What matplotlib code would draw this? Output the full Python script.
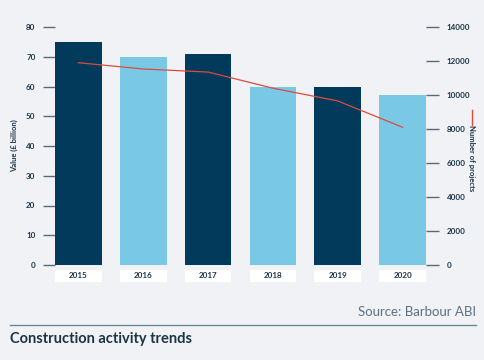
import numpy as np
import matplotlib
matplotlib.use("Agg")
import matplotlib.pyplot as plt
from matplotlib.lines import Line2D

years = ["2015", "2016", "2017", "2018", "2019", "2020"]
value_bn = [75, 70, 71, 60, 60, 57]
projects = [11900, 11530, 11350, 10400, 9650, 8100]
left_ticks = [0, 10, 20, 30, 40, 50, 60, 70, 80]
right_ticks = [0, 2000, 4000, 6000, 8000, 10000, 12000, 14000]

navy = "#023a5b"
light = "#79c9e6"
red = "#e2493d"
bg = "#f0f2f5"
text_col = "#1c3446"

plt.rcParams["font.family"] = ["Lato", "DejaVu Sans"]

fig = plt.figure(figsize=(4.85, 3.6), dpi=100, facecolor=bg)
ax = fig.add_axes([55/485, 1 - 265/360, 371/485, 238/360])
ax.set_facecolor(bg)

x = np.arange(len(years))
colors = [navy if i % 2 == 0 else light for i in range(len(years))]
ax.bar(x, value_bn, width=0.72, color=colors, zorder=2)
ax.set_xlim(-0.36, len(years) - 0.64)
ax.set_ylim(0, 80)
ax.set_yticks(left_ticks)
ax.tick_params(axis="y", length=9, width=1, color="#5a6b78", pad=5,
               labelsize=5.8, labelcolor=text_col)
for lbl in ax.get_yticklabels():
    lbl.set_fontweight("bold")
ax.set_xticks([])
for s in ax.spines.values():
    s.set_visible(False)
ax.set_ylabel("Value (£ billion)", fontsize=5.5, fontweight="bold",
              color=text_col, labelpad=6)

# year labels in white boxes
for xi, yr in zip(x, years):
    ax.bar(xi, 4.0, bottom=-5.6, width=0.72, color="white", clip_on=False, zorder=2)
    ax.text(xi, -3.6, yr, ha="center", va="center", fontsize=5.8,
            fontweight="bold", color=text_col, clip_on=False)

ax2 = ax.twinx()
ax2.plot(x, projects, color=red, linewidth=0.9, zorder=3)
ax2.set_ylim(0, 14000)
ax2.set_yticks(right_ticks)
ax2.tick_params(axis="y", length=9, width=1, color="#5a6b78", pad=6,
                labelsize=5.8, labelcolor=text_col)
for lbl in ax2.get_yticklabels():
    lbl.set_fontweight("bold")
for s in ax2.spines.values():
    s.set_visible(False)

# right axis label with line key
fig.text(472/485, 1 - 158/360, "Number of projects", rotation=-90, ha="center",
         va="center", fontsize=5.5, fontweight="bold", color=text_col)
fig.add_artist(Line2D([472/485, 472/485], [1 - 110/360, 1 - 125/360],
                      color=red, linewidth=1))

fig.text(476/485, 1 - 312/360, "Source: Barbour ABI", ha="right", va="center",
         fontsize=9.5, color="#5c7282")
fig.add_artist(Line2D([10/485, 476/485], [1 - 325/360, 1 - 325/360],
                      color="#6f8796", linewidth=1))
fig.text(10/485, 1 - 339/360, "Construction activity trends", ha="left",
         va="center", fontsize=10.5, fontweight="bold", color=text_col)

fig.savefig("out.png", dpi=100, facecolor=bg)
